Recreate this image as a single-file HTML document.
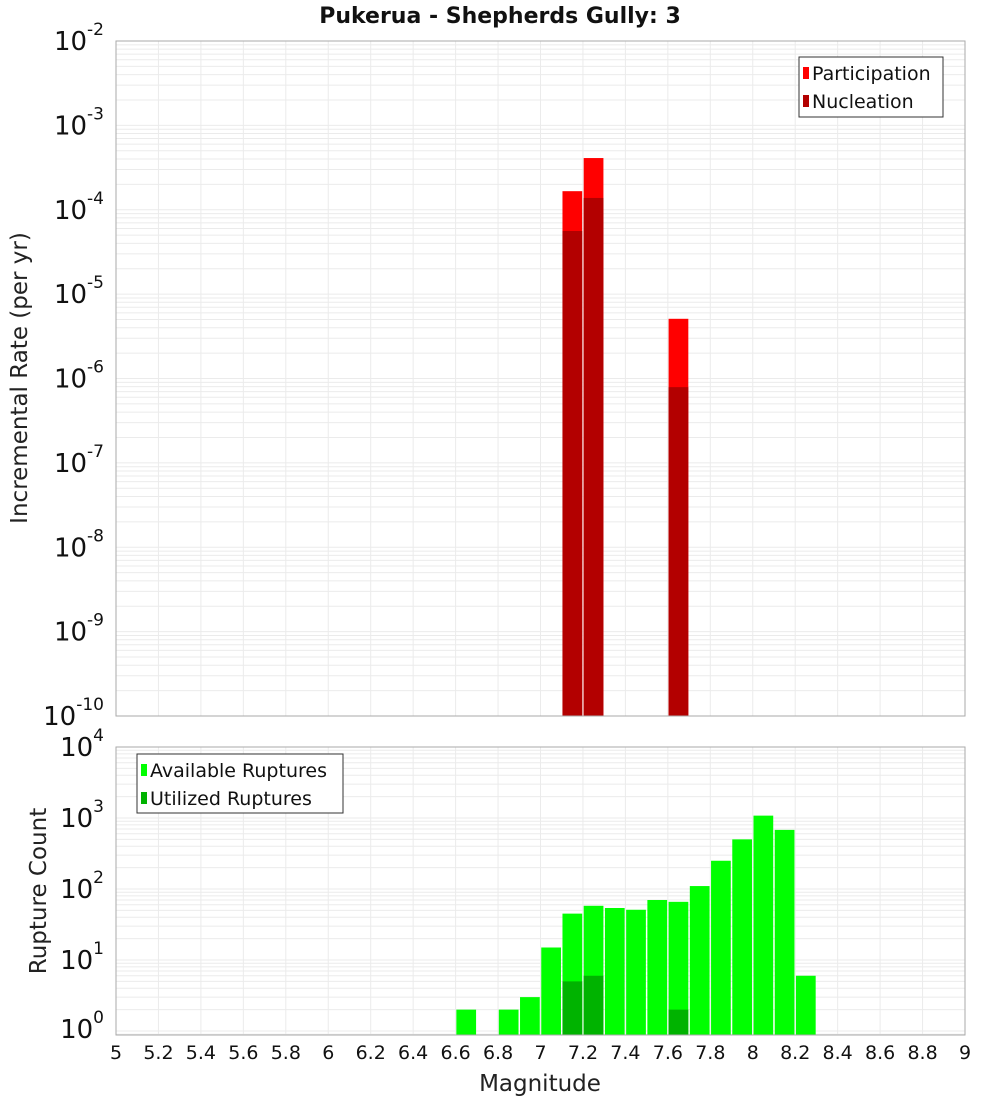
<!DOCTYPE html>
<html><head><meta charset="utf-8"><style>
body{margin:0;background:#fff;font-family:"Liberation Sans","DejaVu Sans",sans-serif}
svg text{font-family:"DejaVu Sans","Liberation Sans",sans-serif}
</style></head><body>
<svg id="c" width="1000" height="1100" xmlns="http://www.w3.org/2000/svg"></svg>
<script>
const binCenters=[7.15,7.25,7.65];
const participation=[1.66e-4,4.1e-4,5.1e-6];
const nucleation=[5.6e-5,1.38e-4,7.9e-7];
const availMags=[6.65,6.85,6.95,7.05,7.15,7.25,7.35,7.45,7.55,7.65,7.75,7.85,7.95,8.05,8.15,8.25];
const availCounts=[2,2,3,15,45,58,54,51,70,66,110,250,500,1080,680,6];
const usedMags=[7.15,7.25,7.65];
const usedCounts=[5,6,2];
const xTicks=["5","5.2","5.4","5.6","5.8","6","6.2","6.4","6.6","6.8","7","7.2","7.4","7.6","7.8","8","8.2","8.4","8.6","8.8","9"];
const topExp=[-2,-3,-4,-5,-6,-7,-8,-9,-10];
const botExp=[4,3,2,1,0];

const NS="http://www.w3.org/2000/svg";
const svg=document.getElementById('c');
function mk(t,a,p){const e=document.createElementNS(NS,t);for(const k in a)e.setAttribute(k,a[k]);(p||svg).appendChild(e);return e;}
const X0=116,X1=965;
const xs=m=>X0+(m-5)/4*(X1-X0);
const T0=41,T1=716; const ysT=v=>T0+(-2-Math.log10(v))*(T1-T0)/8;
const B0=747,BD=71; const ysB=v=>B0+(4-Math.log10(v))*BD; const B1=1035;

function grid(top,bot,ys,eHi,eLo){
  for(let e=eLo;e<eHi;e++)for(let k=1;k<10;k++){const y=ys(k*Math.pow(10,e));if(y>=top&&y<=bot)
    {const l=mk('line',{x1:X0,x2:X1,y1:y,y2:y,stroke:'#ebebeb','stroke-width':1});}}
  xTicks.forEach(t=>{const x=xs(+t);const l=mk('line',{x1:x,x2:x,y1:top,y2:bot,stroke:'#ebebeb'});});
}
grid(T0,T1,ysT,-2,-10);
grid(B0,B1,ysB,4,-1);

const bw=(xs(5.1)-xs(5))-1.5;
binCenters.forEach((m,i)=>{
  const x=xs(m)-bw/2;
  let r=mk('rect',{x:x,y:ysT(participation[i]),width:bw,height:T1-ysT(participation[i]),fill:'#ff0000'});
  
  r=mk('rect',{x:x,y:ysT(nucleation[i]),width:bw,height:T1-ysT(nucleation[i]),fill:'#b30000'});
  
});
availMags.forEach((m,i)=>{
  const y=ysB(availCounts[i]);
  const r=mk('rect',{x:xs(m)-bw/2,y:y,width:bw,height:B1-y,fill:'#00ff00'});
  
});
usedMags.forEach((m,i)=>{
  const y=ysB(usedCounts[i]);
  const r=mk('rect',{x:xs(m)-bw/2,y:y,width:bw,height:B1-y,fill:'#00b300'});
  
});
let f=mk('rect',{x:X0,y:T0,width:X1-X0,height:T1-T0,fill:'none',stroke:'#aaa'});

f=mk('rect',{x:X0,y:B0,width:X1-X0,height:B1-B0,fill:'none',stroke:'#aaa'});


function ylab(y,e,name){
  const t=mk('text',{x:104,y:y+9,'text-anchor':'end','font-size':26,fill:'#111'});
  
  t.textContent='10';
  const s=mk('tspan',{dy:-15,'font-size':17},t);s.textContent=String(e);
}
topExp.forEach(e=>ylab(ysT(Math.pow(10,e)),e,'y-tick-label'));
botExp.forEach(e=>ylab(Math.min(ysB(Math.pow(10,e)),1029),e,'y-tick-label'));
xTicks.forEach(t=>{const x=mk('text',{x:xs(+t),y:1059,'text-anchor':'middle','font-size':19,fill:'#111'});
  x.textContent=t;});

let t=mk('text',{x:500,y:23,'text-anchor':'middle','font-size':22,'font-weight':'bold',fill:'#111'});
t.textContent='Pukerua - Shepherds Gully: 3';
t=mk('text',{x:540,y:1091,'text-anchor':'middle','font-size':23,fill:'#222'});
t.textContent='Magnitude';
t=mk('text',{x:27,y:378,'text-anchor':'middle','font-size':23,fill:'#222',transform:'rotate(-90 27 378)'});
t.textContent='Incremental Rate (per yr)';
t=mk('text',{x:46,y:891,'text-anchor':'middle','font-size':23,fill:'#222',transform:'rotate(-90 46 891)'});
t.textContent='Rupture Count';

function legend(x,y,w,h,items,name){
  const g=mk('g',{});
  mk('rect',{x:x,y:y,width:w,height:h,fill:'#fff',stroke:'#333'},g);
  items.forEach((it,i)=>{const cy=y+16+i*28;
    mk('rect',{x:x+4,y:cy-6,width:6,height:12,fill:it[1]},g);
    const tx=mk('text',{x:x+13,y:cy+7,'font-size':19,fill:'#111'},g);tx.textContent=it[0];});
}
legend(799,57,144,60,[['Participation','#ff0000'],['Nucleation','#b30000']],'legend-top');
legend(137,754,206,59,[['Available Ruptures','#00ff00'],['Utilized Ruptures','#00b300']],'legend-bottom');
</script>
</body></html>
